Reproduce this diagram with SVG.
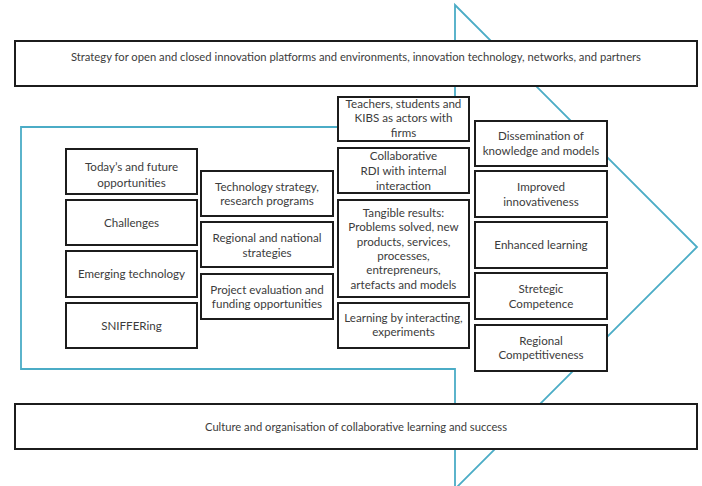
<svg xmlns="http://www.w3.org/2000/svg" width="702" height="486" viewBox="0 0 702 486">
<style>
  .bg { fill: #ffffff; }
  .arrow { fill: none; stroke: #4BACC6; stroke-width: 1.8; stroke-linejoin: miter; }
  .box { fill: #ffffff; stroke: #1c1c1c; stroke-width: 2; }
  .t { font-family: "Lato", "Liberation Sans", sans-serif; font-size: 11.6px; fill: #3c3c3c; text-anchor: middle; }
  .wide { font-family: "Lato", "Liberation Sans", sans-serif; font-size: 11.5px; fill: #3c3c3c; text-anchor: middle; }
</style>
<rect class="bg" x="0" y="0" width="702" height="486"/>
<g id="big-arrow">
  <path class="arrow" d="M455,5 L697,247 L455,489 L455,369 L21,369 L21,127 L455,127 Z"/>
</g>
<g id="connectors"></g>
<g id="top-strategy">
  <rect class="box" x="15" y="41" width="682" height="45"/>
  <text class="wide" x="356" y="61" textLength="570" lengthAdjust="spacingAndGlyphs">Strategy for open and closed innovation platforms and environments, innovation technology, networks, and partners</text>
</g>
<g id="bottom-culture">
  <rect class="box" x="15" y="404" width="682" height="45"/>
  <text class="wide" x="356" y="431" textLength="302" lengthAdjust="spacingAndGlyphs">Culture and organisation of collaborative learning and success</text>
</g>
<g id="n-today">
  <rect class="box" x="66" y="149" width="131" height="45"/>
  <text class="t" x="131.5" y="171">Today’s and future</text>
  <text class="t" x="131.5" y="187">opportunities</text>
</g>
<g id="n-challenges">
  <rect class="box" x="66" y="200" width="131" height="45"/>
  <text class="t" x="131.5" y="227">Challenges</text>
</g>
<g id="n-emerging">
  <rect class="box" x="66" y="251" width="131" height="46"/>
  <text class="t" x="131.5" y="278">Emerging technology</text>
</g>
<g id="n-sniffering">
  <rect class="box" x="66" y="303" width="131" height="45"/>
  <text class="t" x="131.5" y="330">SNIFFERing</text>
</g>
<g id="n-techstrategy">
  <rect class="box" x="201" y="171" width="132" height="45"/>
  <text class="t" x="267" y="191">Technology strategy,</text>
  <text class="t" x="267" y="205">research programs</text>
</g>
<g id="n-regional-national">
  <rect class="box" x="201" y="222" width="132" height="45"/>
  <text class="t" x="267" y="242">Regional and national</text>
  <text class="t" x="267" y="257">strategies</text>
</g>
<g id="n-project">
  <rect class="box" x="201" y="274" width="132" height="45"/>
  <text class="t" x="267" y="294">Project evaluation and</text>
  <text class="t" x="267" y="308">funding opportunities</text>
</g>
<g id="n-teachers">
  <rect class="box" x="338" y="97" width="131" height="44"/>
  <text class="t" x="403.5" y="108">Teachers, students and</text>
  <text class="t" x="403.5" y="122">KIBS as actors with</text>
  <text class="t" x="403.5" y="137">firms</text>
</g>
<g id="n-collaborative">
  <rect class="box" x="338" y="148" width="131" height="45"/>
  <text class="t" x="403.5" y="160">Collaborative</text>
  <text class="t" x="403.5" y="175">RDI with internal</text>
  <text class="t" x="403.5" y="190">interaction</text>
</g>
<g id="n-tangible">
  <rect class="box" x="338" y="200" width="131" height="97"/>
  <text class="t" x="403.5" y="217">Tangible results:</text>
  <text class="t" x="403.5" y="231">Problems solved, new</text>
  <text class="t" x="403.5" y="246">products, services,</text>
  <text class="t" x="403.5" y="260">processes,</text>
  <text class="t" x="403.5" y="274">entrepreneurs,</text>
  <text class="t" x="403.5" y="289">artefacts and models</text>
</g>
<g id="n-learning">
  <rect class="box" x="338" y="303" width="131" height="45"/>
  <text class="t" x="403.5" y="322">Learning by interacting,</text>
  <text class="t" x="403.5" y="336">experiments</text>
</g>
<g id="n-dissemination">
  <rect class="box" x="475" y="121" width="132" height="45"/>
  <text class="t" x="541" y="140">Dissemination of</text>
  <text class="t" x="541" y="155">knowledge and models</text>
</g>
<g id="n-improved">
  <rect class="box" x="475" y="171" width="132" height="46"/>
  <text class="t" x="541" y="191">Improved</text>
  <text class="t" x="541" y="206">innovativeness</text>
</g>
<g id="n-enhanced">
  <rect class="box" x="475" y="222" width="132" height="46"/>
  <text class="t" x="541" y="249">Enhanced learning</text>
</g>
<g id="n-strategic">
  <rect class="box" x="475" y="273" width="132" height="46"/>
  <text class="t" x="541" y="293">Stretegic</text>
  <text class="t" x="541" y="308">Competence</text>
</g>
<g id="n-regional-competitiveness">
  <rect class="box" x="475" y="325" width="132" height="46"/>
  <text class="t" x="541" y="345">Regional</text>
  <text class="t" x="541" y="359">Competitiveness</text>
</g>
</svg>
